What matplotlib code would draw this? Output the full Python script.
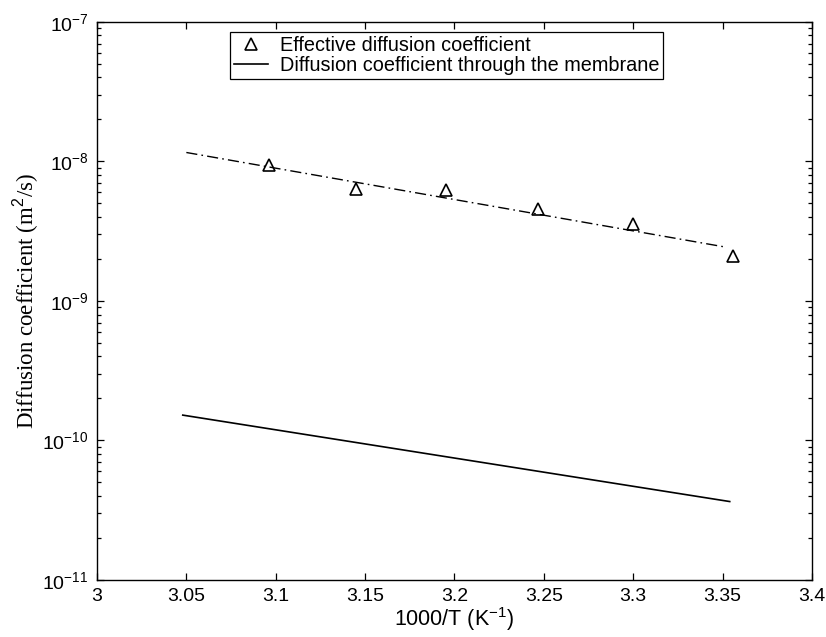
import matplotlib
matplotlib.use("Agg")
import matplotlib.pyplot as plt
from matplotlib.ticker import LogLocator, NullFormatter

# Effective diffusion coefficient (measured points)
inv_T = [3.096, 3.145, 3.195, 3.247, 3.300, 3.356]
d_eff = [9.5e-9, 6.4e-9, 6.2e-9, 4.6e-9, 3.55e-9, 2.1e-9]

# fitted line through the measured points (dash-dot)
fit_x = [3.05, 3.352]
fit_y = [1.16e-8, 2.43e-9]

# diffusion coefficient through the membrane (solid line)
mem_x = [3.048, 3.354]
mem_y = [1.52e-10, 3.65e-11]

x_ticks = [3, 3.05, 3.1, 3.15, 3.2, 3.25, 3.3, 3.35, 3.4]
x_labels = ["3", "3.05", "3.1", "3.15", "3.2", "3.25", "3.3", "3.35", "3.4"]

plt.rcParams["font.family"] = ["Liberation Sans", "DejaVu Sans"]
plt.rcParams["mathtext.fontset"] = "custom"
plt.rcParams["mathtext.rm"] = "Liberation Sans"
plt.rcParams["mathtext.it"] = "Liberation Sans:italic"
serif = ["Liberation Serif", "DejaVu Serif"]

fig = plt.figure(figsize=(8.26, 6.37), dpi=100)
ax = fig.add_axes([0.1174, 0.0895, 0.8656, 0.876])

ax.plot(inv_T, d_eff, linestyle="none", marker="^", markersize=8.5,
        markerfacecolor="none", markeredgecolor="black", markeredgewidth=1.2,
        label="Effective diffusion coefficient")
fit_line, = ax.plot(fit_x, fit_y, color="black", linewidth=1.0)
fit_line.set_dashes([8, 3, 1.2, 3])
ax.plot(mem_x, mem_y, color="black", linewidth=1.2,
        label="Diffusion coefficient through the membrane")

ax.set_yscale("log")
ax.set_xlim(3, 3.4)
ax.set_ylim(1e-11, 1e-7)
ax.set_xticks(x_ticks)
ax.set_xticklabels(x_labels)
ax.yaxis.set_major_locator(LogLocator(base=10, numticks=10))
ax.yaxis.set_minor_locator(LogLocator(base=10, subs=range(2, 10), numticks=20))
ax.yaxis.set_minor_formatter(NullFormatter())

ax.tick_params(which="both", direction="in", top=True, right=True, width=0.9,
               labelsize=14)
ax.tick_params(which="major", length=5, pad=6)
ax.tick_params(which="minor", length=3)
for sp in ax.spines.values():
    sp.set_linewidth(1.0)

ax.set_xlabel("1000/T (K$^{-1}$)", fontsize=15.5, labelpad=0)
ax.set_ylabel("Diffusion coefficient (m$^2$/s)", family=serif, fontsize=16.5, labelpad=1)

leg = ax.legend(loc="upper left", bbox_to_anchor=(0.186, 0.982), borderaxespad=0,
                frameon=True, fancybox=False, edgecolor="black", framealpha=1,
                fontsize=14.3, handlelength=1.7,
                borderpad=0.2, labelspacing=0.05, handletextpad=0.6)
leg.get_frame().set_linewidth(0.9)

fig.savefig("out.png", dpi=100)
